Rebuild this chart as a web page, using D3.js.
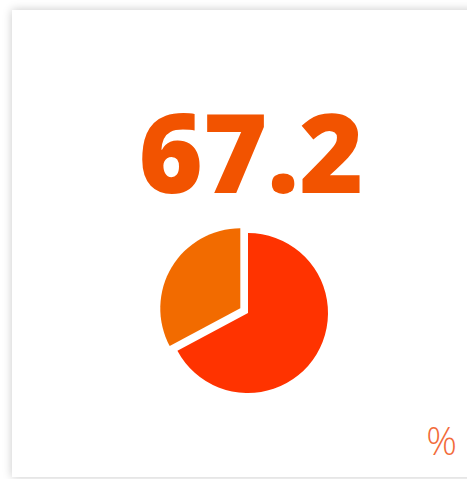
<!DOCTYPE html>
<html>
<head>
<meta charset="utf-8">
<script src="https://cdn.jsdelivr.net/npm/d3@7"></script>
<style>
  html, body { margin: 0; padding: 0; background: #fff; overflow: hidden; }
  #card {
    position: absolute; left: 12px; top: 10px; width: 470px; height: 467px;
    background: #fff; box-shadow: 0 0 9px rgba(0,0,0,0.22);
  }
  svg { position: absolute; left: 0; top: 0; }
</style>
</head>
<body>
<div id="card"></div>
<svg id="chart" width="467" height="479"></svg>
<script>
// kpi value and pie split
const kpiValue = 67.2;
const unitLabel = '%';
const sliceNames = ['value', 'rest'];
const sliceValues = [67.2, 32.8];
const sliceColors = ['#ff3300', '#f26b00'];

const svg = d3.select('#chart');
const cx = 248, cy = 313, r = 80;

svg.append('text')
    .attr('x', 251)
    .attr('y', 193)
    .attr('text-anchor', 'middle')
    .attr('fill', '#f25300')
    .attr('font-family', '"Open Sans", sans-serif')
    .attr('font-weight', 800)
    .attr('font-size', 110)
    .text(kpiValue.toFixed(1));

const pie = d3.pie().sort(null).value(d => d);
const arc = d3.arc().innerRadius(0).outerRadius(r);
const arcs = pie(sliceValues);

const g = svg.append('g').attr('transform', `translate(${cx},${cy})`);
g.selectAll('path')
  .data(arcs)
  .join('path')
    .attr('d', arc)
    .attr('fill', (d, i) => sliceColors[i])
    .attr('transform', (d, i) => {
      // pull the smaller slice out a bit
      if (i === 0) return null;
      const mid = (d.startAngle + d.endAngle) / 2;
      const off = 9;
      return `translate(${Math.sin(mid) * off},${-Math.cos(mid) * off})`;
    });

svg.append('text')
    .attr('x', 457)
    .attr('y', 455)
    .attr('text-anchor', 'end')
    .attr('fill', '#f26b3a')
    .attr('font-family', '"Open Sans", sans-serif')
    .attr('font-weight', 300)
    .attr('font-size', 38)
    .text(unitLabel);
</script>
</body>
</html>
